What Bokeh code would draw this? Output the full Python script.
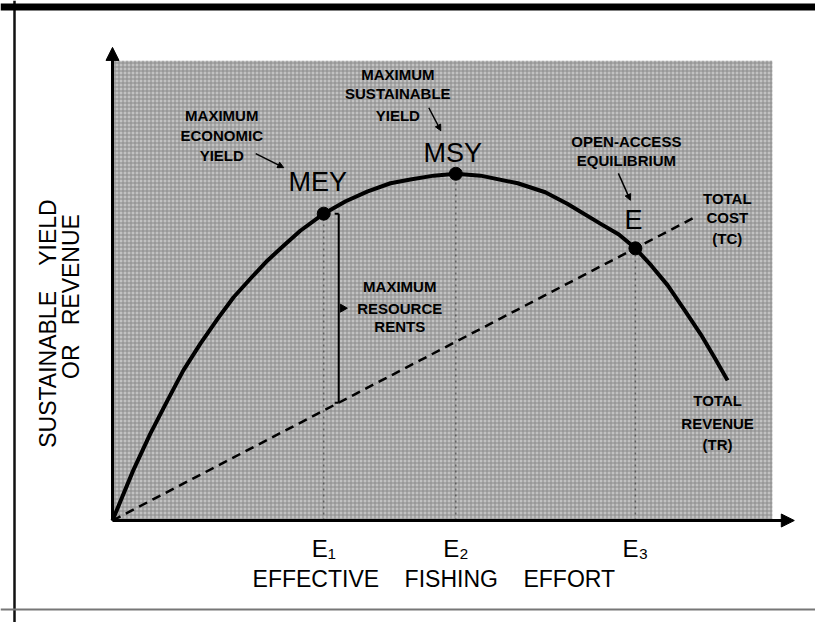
import numpy as np
from bokeh.plotting import figure
from bokeh.models import (Range1d, LinearAxis, FixedTicker, Arrow, NormalHead, Label, Span)
from bokeh.embed import file_html
from bokeh.resources import INLINE

# ---- data (effort and revenue in arbitrary units) ----
effort = [0, 1.2, 3.0, 5.5, 8.0, 10.3, 12.8, 15.3, 17.6, 20.1, 22.5, 24.9, 27.3,
          30.7, 33.9, 37.1, 40.4, 43.3, 46.7, 49.9, 53.5, 58.9, 62.9, 66.1,
          70.9, 73.6, 76.0, 78.3, 80.7, 83.1, 85.5, 87.5, 89.4]
revenue = [0, 4.2, 10.5, 18.3, 25.3, 31.6, 37.3, 42.5, 47.0, 51.0, 54.7, 57.9, 61.0,
           64.6, 67.2, 69.3, 71.0, 71.8, 72.6, 73.0, 72.6, 71.0, 69.1, 66.7,
           62.5, 60.2, 57.3, 53.7, 49.5, 44.4, 39.2, 34.3, 29.5]
tc_effort = [0, 85.0]
tc_cost = [0, 64.1]
key_effort = [30.7, 49.9, 76.0]      # E1, E2, E3
key_revenue = [64.6, 73.0, 57.3]     # MEY, MSY, open-access E
tick_labels = ["E\u2081", "E\u2082", "E\u2083"]

# ---- geometry ----
W, H = 815, 622
OX, OY = 112, 520          # canvas pixel of the origin
SX, SY = 6.88, 4.75        # pixels per data unit
FONT = "Liberation Sans"

p = figure(width=W, height=H,
           x_range=Range1d(-OX / SX, (W - OX) / SX),
           y_range=Range1d(-(H - OY) / SY, OY / SY),
           output_backend="svg", toolbar_location=None, min_border=0,
           x_axis_type=None, y_axis_type=None,
           background_fill_color="white", border_fill_color="white",
           outline_line_color=None)

# shaded plotting area (halftone-like texture)
GRAY_RIGHT, GRAY_TOP = 95.9, 96.8
p.quad(left=[0], right=[GRAY_RIGHT], bottom=[0], top=[GRAY_TOP],
       fill_color="#c2c2c2", line_color=None,
       hatch_pattern="+", hatch_color="#8a8a8a", hatch_scale=4, hatch_weight=1)

# page frame lines
p.add_layout(Span(location=-(OX - 14) / SX, dimension="height", line_color="#111", line_width=2.5))
p.add_layout(Span(location=(OY - 6.5) / SY, dimension="width", line_color="black", line_width=7))
p.add_layout(Span(location=-(609 - OY) / SY, dimension="width", line_color="#777", line_width=2))

# dotted drop lines
p.segment(x0=key_effort, y0=[0] * 3, x1=key_effort, y1=key_revenue,
          line_dash="2 4", line_color="#333", line_width=1.5, line_alpha=0.6)

# total cost (dashed) and total revenue curve
p.line(tc_effort, tc_cost, line_color="black", line_width=2.5, line_dash="9 6")
p.line(effort, revenue, line_color="black", line_width=4, line_join="round")
p.scatter(key_effort, key_revenue, size=13, color="black")

# axes
xaxis = LinearAxis(fixed_location=0, bounds=(0, 98.5),
                   ticker=FixedTicker(ticks=key_effort),
                   major_label_overrides={k: v for k, v in zip(key_effort, tick_labels)},
                   axis_line_width=3, axis_line_color="black",
                   major_tick_line_color=None, minor_tick_line_color=None,
                   major_label_text_font=FONT, major_label_text_font_size="24px",
                   major_label_text_color="black", major_label_standoff=8)
p.add_layout(xaxis, "below")
yaxis = LinearAxis(fixed_location=0, bounds=(0, 99.0),
                   ticker=FixedTicker(ticks=[]),
                   axis_line_width=3, axis_line_color="black",
                   major_tick_line_color=None, minor_tick_line_color=None,
                   major_label_text_font_size="0px")
p.add_layout(yaxis, "left")
p.add_layout(Arrow(end=NormalHead(size=13, fill_color="black", line_color="black"), line_width=3,
                   x_start=95, y_start=0, x_end=99.1, y_end=0))
p.add_layout(Arrow(end=NormalHead(size=13, fill_color="black", line_color="black"), line_width=3,
                   x_start=0, y_start=95, x_end=0, y_end=99.6))


def lab(x, y, text, dx=0, dy=0, size="15px", style="bold", angle=0.0):
    p.add_layout(Label(x=x, y=y, x_offset=dx, y_offset=dy, text=text, angle=angle,
                       text_font=FONT, text_font_size=size, text_font_style=style,
                       text_align="center", text_baseline="middle", text_color="black"))


# axis titles
NB = "\u00a0"
lab(46.7, 0, "EFFECTIVE" + NB * 3 + " FISHING" + NB * 3 + " EFFORT", dy=-58, size="23px", style="normal")
lab(0, 41.5, "SUSTAINABLE" + NB * 3 + " YIELD", dx=-65, size="23px", style="normal", angle=np.pi / 2)
lab(0, 44.2, "OR" + NB * 2 + " REVENUE", dx=-42, dy=14, size="23px", style="normal", angle=np.pi / 2)

# point labels
mey_x, msy_x, e_x = key_effort
mey_y, msy_y, e_y = key_revenue
lab(mey_x, mey_y, "MEY", dx=-6, dy=32, size="27px", style="normal")
lab(msy_x, msy_y, "MSY", dx=-3, dy=21, size="27px", style="normal")
lab(e_x, e_y, "E", dx=-2, dy=28, size="27px", style="normal")

for text, dy in [("MAXIMUM", 98), ("ECONOMIC", 78), ("YIELD", 58)]:
    lab(mey_x, mey_y, text, dx=-102, dy=dy)
for text, dy in [("MAXIMUM", 99), ("SUSTAINABLE", 80), ("YIELD", 58)]:
    lab(msy_x, msy_y, text, dx=-58, dy=dy)
for text, dy in [("OPEN-ACCESS", 107), ("EQUILIBRIUM", 88)]:
    lab(e_x, e_y, text, dx=-9, dy=dy)
for text, dy in [("TOTAL", 18), ("COST", -1), ("(TC)", -22)]:
    lab(tc_effort[-1], tc_cost[-1], text, dx=30, dy=dy)
for text, dy in [("TOTAL", -20), ("REVENUE", -43), ("(TR)", -64)]:
    lab(effort[-1], revenue[-1], text, dx=-10, dy=dy)


# pointer arrows (pixel offsets from the marked points)
def pointer(x, y, sx0, sy0, sx1, sy1):
    p.add_layout(Arrow(end=NormalHead(size=6, fill_color="black", line_color="black"),
                       line_width=1.5, x_start=x + sx0 / SX, y_start=y - sy0 / SY,
                       x_end=x + sx1 / SX, y_end=y - sy1 / SY))


pointer(mey_x, mey_y, -68, -60, -40, -46)
pointer(msy_x, msy_y, -27, -66, -15, -43)
pointer(e_x, e_y, -17, -75, -5, -48)

# maximum resource rents bracket
rent_x = mey_x + 15 / SX
rent_hi = mey_y
rent_lo = tc_cost[-1] / tc_effort[-1] * rent_x
hook = 4 / SX
p.segment(x0=[rent_x, rent_x, rent_x], y0=[rent_lo, rent_hi, rent_lo],
          x1=[rent_x, rent_x - hook, rent_x - hook], y1=[rent_hi, rent_hi, rent_lo],
          line_color="black", line_width=2)
rent_mid = (rent_hi + rent_lo) / 2
p.scatter([rent_x + 4 / SX], [rent_mid], marker="triangle", angle=-np.pi / 2, size=8, color="black")
for text, dy in [("MAXIMUM", 22), ("RESOURCE", 0), ("RENTS", -18)]:
    lab(rent_x, rent_mid, text, dx=61, dy=dy)

open("out.html", "w").write(file_html(p, INLINE))
